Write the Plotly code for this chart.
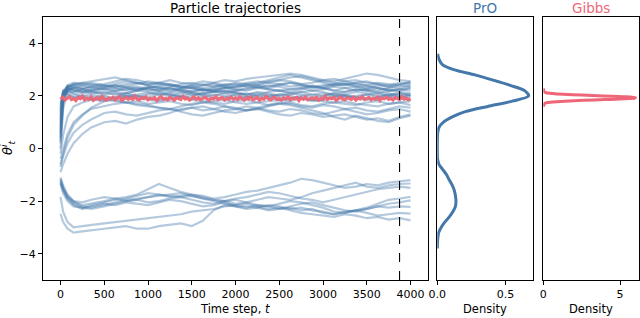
import plotly.graph_objects as go

# ---------------- data ----------------
time_steps = [0, 30, 80, 150, 250, 350, 500, 625, 750, 875, 1000, 1125, 1250, 1375, 1500,
              1625, 1750, 1875, 2000, 2125, 2250, 2375, 2500, 2625, 2750, 2875, 3000,
              3125, 3250, 3375, 3500, 3625, 3750, 3875, 4000]

upper_particles = [
    [0.6, 2.0, 2.35, 2.4, 2.3, 2.35, 2.25, 2.3, 2.2, 2.25, 2.3, 2.2, 2.15, 2.25, 2.3, 2.2, 2.3, 2.35, 2.25, 2.2, 2.3, 2.4, 2.35, 2.25, 2.3, 2.2, 2.25, 2.35, 2.3, 2.2, 2.25, 2.3, 2.2, 2.25, 2.3],
    [1.2, 2.1, 2.3, 2.2, 2.1, 2.15, 2.05, 2.1, 2.0, 2.05, 2.1, 2.15, 2.05, 2.0, 2.1, 2.05, 2.0, 2.1, 2.15, 2.05, 2.1, 2.0, 2.05, 2.1, 2.15, 2.05, 2.0, 2.1, 2.05, 2.15, 2.1, 2.0, 2.05, 2.1, 2.0],
    [0.3, 1.8, 2.3, 2.45, 2.4, 2.3, 2.35, 2.4, 2.3, 2.2, 2.3, 2.35, 2.25, 2.3, 2.4, 2.45, 2.35, 2.4, 2.5, 2.45, 2.4, 2.35, 2.45, 2.5, 2.4, 2.35, 2.3, 2.4, 2.45, 2.35, 2.3, 2.4, 2.35, 2.45, 2.5],
    [1.5, 2.2, 2.2, 2.1, 2.0, 1.95, 2.0, 1.9, 1.95, 2.0, 1.9, 1.85, 1.95, 2.0, 1.9, 1.95, 2.05, 2.0, 1.9, 1.95, 2.0, 2.05, 1.95, 1.9, 2.0, 2.05, 2.1, 2.0, 1.95, 2.0, 2.05, 1.95, 2.0, 2.1, 2.05],
    [0.8, 2.1, 2.4, 2.35, 2.25, 2.2, 2.3, 2.2, 2.25, 2.35, 2.25, 2.2, 2.3, 2.2, 2.15, 2.25, 2.2, 2.15, 2.2, 2.3, 2.35, 2.25, 2.2, 2.25, 2.3, 2.4, 2.3, 2.2, 2.15, 2.25, 2.2, 2.1, 2.2, 2.15, 2.1],
    [1.0, 2.0, 2.25, 2.3, 2.2, 2.1, 2.15, 2.05, 2.1, 2.0, 1.95, 2.05, 2.1, 2.15, 2.05, 2.0, 1.9, 1.95, 2.05, 2.1, 2.0, 1.95, 1.85, 1.9, 1.95, 1.85, 1.9, 2.0, 2.05, 1.95, 1.9, 1.85, 1.95, 1.9, 1.85],
    [0.4, 1.9, 2.35, 2.45, 2.5, 2.4, 2.45, 2.55, 2.65, 2.6, 2.5, 2.45, 2.4, 2.35, 2.4, 2.3, 2.35, 2.45, 2.4, 2.5, 2.55, 2.5, 2.6, 2.7, 2.75, 2.65, 2.55, 2.5, 2.45, 2.4, 2.35, 2.3, 2.25, 2.2, 2.3],
    [1.7, 2.15, 2.1, 1.95, 1.9, 1.85, 1.8, 1.85, 1.75, 1.8, 1.7, 1.75, 1.8, 1.7, 1.65, 1.75, 1.8, 1.85, 1.75, 1.7, 1.75, 1.8, 1.85, 1.8, 1.9, 1.85, 1.8, 1.75, 1.7, 1.65, 1.75, 1.8, 1.7, 1.75, 1.8],
    [0.2, 1.7, 2.2, 2.3, 2.25, 2.2, 2.1, 2.2, 2.3, 2.25, 2.35, 2.3, 2.2, 2.25, 2.15, 2.1, 2.2, 2.3, 2.35, 2.4, 2.3, 2.25, 2.2, 2.15, 2.25, 2.35, 2.4, 2.45, 2.55, 2.6, 2.5, 2.45, 2.35, 2.3, 2.4],
    [1.3, 2.15, 2.3, 2.25, 2.15, 2.2, 2.25, 2.15, 2.1, 2.2, 2.15, 2.05, 2.0, 2.1, 2.2, 2.25, 2.15, 2.1, 2.0, 1.95, 2.05, 2.15, 2.2, 2.1, 2.05, 1.95, 2.0, 2.1, 2.15, 2.25, 2.2, 2.15, 2.1, 2.0, 2.05],
    [0.7, 2.05, 2.4, 2.5, 2.45, 2.5, 2.4, 2.35, 2.45, 2.5, 2.4, 2.3, 2.35, 2.45, 2.5, 2.4, 2.45, 2.35, 2.3, 2.4, 2.45, 2.55, 2.6, 2.55, 2.45, 2.5, 2.6, 2.65, 2.55, 2.45, 2.4, 2.5, 2.45, 2.4, 2.55],
    [1.6, 2.1, 2.05, 1.95, 2.0, 2.05, 1.95, 1.9, 2.0, 1.95, 2.05, 2.1, 2.05, 1.95, 2.0, 2.1, 2.15, 2.2, 2.1, 2.05, 2.15, 2.1, 2.0, 2.05, 2.15, 2.2, 2.15, 2.05, 2.0, 1.95, 2.05, 2.1, 2.0, 1.95, 2.0],
    [0.5, 1.95, 2.3, 2.2, 2.15, 2.25, 2.3, 2.4, 2.35, 2.3, 2.2, 2.25, 2.3, 2.2, 2.1, 2.05, 2.15, 2.2, 2.1, 2.0, 1.9, 1.95, 2.05, 2.0, 1.9, 1.8, 1.85, 1.95, 2.0, 1.9, 1.85, 1.95, 2.05, 2.0, 1.9],
    [1.1, 2.05, 2.2, 2.15, 2.25, 2.35, 2.4, 2.3, 2.35, 2.45, 2.55, 2.5, 2.45, 2.35, 2.3, 2.2, 2.25, 2.3, 2.2, 2.25, 2.35, 2.3, 2.4, 2.5, 2.45, 2.35, 2.3, 2.2, 2.3, 2.35, 2.25, 2.2, 2.3, 2.4, 2.35],
    [0.9, 2.0, 2.2, 2.05, 1.95, 1.9, 1.85, 1.95, 2.0, 1.9, 1.85, 1.8, 1.9, 1.95, 1.85, 1.8, 1.75, 1.7, 1.8, 1.85, 1.75, 1.65, 1.7, 1.75, 1.65, 1.6, 1.7, 1.75, 1.8, 1.7, 1.65, 1.6, 1.7, 1.75, 1.65],
    [1.4, 2.2, 2.35, 2.3, 2.4, 2.45, 2.35, 2.45, 2.55, 2.5, 2.4, 2.5, 2.6, 2.5, 2.45, 2.55, 2.5, 2.4, 2.45, 2.35, 2.4, 2.5, 2.45, 2.35, 2.4, 2.3, 2.35, 2.45, 2.4, 2.5, 2.55, 2.45, 2.4, 2.5, 2.45],
    [-0.9, -0.6, -0.2, 0.2, 0.55, 0.8, 1.0, 1.05, 0.95, 1.1, 1.2, 1.25, 1.35, 1.5, 1.55, 1.45, 1.5, 1.6, 1.55, 1.45, 1.5, 1.6, 1.7, 1.65, 1.55, 1.45, 1.35, 1.2, 1.1, 1.25, 1.15, 1.05, 1.0, 1.15, 1.25],
    [-0.6, -0.3, 0.2, 0.6, 0.9, 1.1, 1.35, 1.4, 1.3, 1.25, 1.35, 1.45, 1.5, 1.4, 1.3, 1.25, 1.35, 1.45, 1.5, 1.6, 1.55, 1.45, 1.4, 1.5, 1.45, 1.35, 1.3, 1.4, 1.5, 1.55, 1.45, 1.4, 1.5, 1.6, 1.55],
    [-0.4, 0.0, 0.55, 1.0, 1.3, 1.5, 1.6, 1.7, 1.75, 1.7, 1.65, 1.55, 1.5, 1.6, 1.7, 1.75, 1.7, 1.6, 1.5, 1.45, 1.55, 1.65, 1.75, 1.7, 1.6, 1.55, 1.65, 1.6, 1.5, 1.4, 1.3, 1.35, 1.45, 1.5, 1.4],
    [-0.7, -0.2, 0.4, 0.9, 1.25, 1.55, 1.8, 1.95, 2.1, 2.2, 2.3, 2.4, 2.45, 2.35, 2.3, 2.4, 2.5, 2.6, 2.55, 2.65, 2.7, 2.75, 2.8, 2.85, 2.8, 2.7, 2.6, 2.55, 2.65, 2.75, 2.85, 2.8, 2.7, 2.6, 2.55],
    [0.0, 1.5, 2.2, 2.4, 2.5, 2.55, 2.65, 2.7, 2.6, 2.5, 2.45, 2.5, 2.4, 2.3, 2.35, 2.25, 2.2, 2.3, 2.35, 2.45, 2.5, 2.6, 2.7, 2.8, 2.7, 2.6, 2.5, 2.4, 2.45, 2.5, 2.4, 2.3, 2.2, 2.25, 2.2],
    [-0.2, 0.5, 1.2, 1.6, 1.75, 1.85, 1.9, 1.8, 1.75, 1.65, 1.6, 1.55, 1.5, 1.45, 1.55, 1.6, 1.5, 1.4, 1.35, 1.45, 1.5, 1.4, 1.3, 1.25, 1.35, 1.3, 1.2, 1.25, 1.3, 1.2, 1.1, 1.15, 1.05, 1.2, 1.3],
]

lower_particles = [
    [-2.48, -2.8, -3.05, -3.2, -3.15, -3.1, -3.05, -3.0, -2.95, -3.05, -3.05, -2.95, -2.9, -2.85, -2.95, -2.75, -2.35, -2.15, -2.2, -2.25, -2.15, -2.2, -2.3, -2.25, -2.35, -2.3, -2.45, -2.5, -2.4, -2.35, -2.45, -2.55, -2.5, -2.45, -2.48],
    [-1.84, -2.4, -2.8, -3.0, -2.95, -2.9, -2.85, -2.8, -2.75, -2.7, -2.65, -2.6, -2.55, -2.5, -2.4, -2.35, -2.3, -2.2, -2.15, -2.1, -2.2, -2.3, -2.25, -2.35, -2.45, -2.5, -2.55, -2.6, -2.5, -2.55, -2.65, -2.6, -2.7, -2.65, -2.73],
    [-1.2, -1.5, -1.8, -2.05, -2.15, -2.1, -2.0, -1.9, -1.85, -1.75, -1.55, -1.35, -1.5, -1.65, -1.75, -1.8, -1.9, -1.85, -1.75, -1.65, -1.6, -1.5, -1.4, -1.3, -1.15, -1.2, -1.3, -1.4, -1.5, -1.45, -1.35, -1.4, -1.3, -1.25, -1.2],
    [-1.1, -1.4, -1.75, -2.0, -2.2, -2.25, -2.15, -2.05, -1.95, -1.9, -1.85, -1.8, -1.75, -1.7, -1.8, -1.9, -1.95, -2.0, -2.1, -2.05, -1.95, -1.85, -1.9, -1.95, -1.85, -1.7, -1.6, -1.5, -1.4, -1.3, -1.45, -1.5, -1.4, -1.35, -1.33],
    [-1.3, -1.6, -1.9, -2.1, -2.25, -2.3, -2.2, -2.1, -2.0, -1.95, -2.05, -2.0, -1.9, -1.85, -1.8, -1.9, -2.0, -2.1, -2.15, -2.2, -2.25, -2.15, -2.2, -2.3, -2.25, -2.35, -2.4, -2.5, -2.45, -2.35, -2.25, -2.1, -1.95, -1.9, -1.84],
    [-1.15, -1.5, -1.85, -2.0, -2.05, -1.95, -1.85, -1.9, -2.0, -1.95, -1.85, -1.75, -1.8, -1.85, -1.95, -2.05, -2.1, -2.0, -1.95, -2.05, -2.15, -2.2, -2.1, -2.0, -2.05, -2.15, -2.25, -2.4, -2.45, -2.35, -2.3, -2.2, -2.1, -2.05, -1.97],
    [-1.25, -1.55, -1.9, -2.15, -2.3, -2.2, -2.1, -2.15, -2.05, -2.1, -2.15, -2.05, -1.95, -2.0, -2.1, -2.2, -2.15, -2.05, -2.2, -2.3, -2.25, -2.35, -2.3, -2.2, -2.1, -2.05, -2.15, -2.25, -2.35, -2.4, -2.3, -2.2, -2.25, -2.2, -2.22],
    [-1.35, -1.7, -2.0, -2.2, -2.25, -2.15, -2.05, -1.95, -1.9, -1.8, -1.7, -1.75, -1.85, -1.8, -1.75, -1.85, -1.95, -2.0, -1.9, -1.85, -1.75, -1.65, -1.7, -1.8, -1.9, -1.95, -2.05, -1.95, -1.85, -1.75, -1.65, -1.55, -1.5, -1.45, -1.5],
]

gibbs_step = 25
gibbs_chain = [
    1.88, 1.95, 1.84, 1.92, 1.97, 1.86, 1.90, 1.82, 1.94, 1.89,
    1.99, 1.85, 1.91, 1.87, 1.96, 1.83, 1.90, 1.93, 1.86, 1.98,
    1.88, 1.84, 1.92, 1.89, 1.95, 1.85, 1.91, 1.97, 1.83, 1.90,
    1.94, 1.87, 1.92, 1.86, 1.99, 1.88, 1.84, 1.93, 1.90, 1.96,
    1.85, 1.91, 1.88, 1.94, 1.82, 1.92, 1.97, 1.87, 1.90, 1.85,
    1.95, 1.89, 1.83, 1.93, 1.91, 1.86, 1.98, 1.88, 1.92, 1.84,
    1.90, 1.96, 1.87, 1.93, 1.85, 1.91, 1.95, 1.88, 1.83, 1.92,
    1.89, 1.97, 1.86, 1.90, 1.94, 1.84, 1.91, 1.88, 1.95, 1.87,
    1.92, 1.86, 1.97, 1.89, 1.84, 1.93, 1.88, 1.96, 1.85, 1.90,
    1.94, 1.83, 1.91, 1.87, 1.98, 1.89, 1.85, 1.92, 1.95, 1.86,
    1.90, 1.84, 1.93, 1.88, 1.97, 1.86, 1.91, 1.89, 1.94, 1.82,
    1.92, 1.87, 1.96, 1.85, 1.90, 1.93, 1.88, 1.95, 1.84, 1.91,
    1.87, 1.99, 1.86, 1.92, 1.89, 1.94, 1.83, 1.90, 1.96, 1.88,
    1.85, 1.93, 1.91, 1.87, 1.95, 1.84, 1.92, 1.89, 1.97, 1.86,
    1.90, 1.94, 1.85, 1.91, 1.88, 1.96, 1.83, 1.92, 1.89, 1.95,
    1.87, 1.91, 1.84, 1.93, 1.90, 1.86, 1.97, 1.88, 1.92, 1.85,
    1.90,
]

cutoff_step = 3875

pro_theta = [-3.8, -3.6, -3.4, -3.2, -3.0, -2.8, -2.6, -2.4, -2.2, -2.0, -1.8, -1.6, -1.4,
             -1.2, -1.0, -0.8, -0.6, -0.4, -0.2, 0.0, 0.2, 0.4, 0.6, 0.8, 1.0, 1.2, 1.4,
             1.6, 1.8, 2.0, 2.2, 2.4, 2.6, 2.8, 3.0, 3.2, 3.4, 3.6]
pro_density = [0.0, 0.001, 0.004, 0.01, 0.028, 0.055, 0.088, 0.115, 0.133, 0.137, 0.133,
               0.125, 0.11, 0.088, 0.068, 0.04, 0.012, 0.002, 0.0, 0.0, 0.0, 0.001, 0.003,
               0.012, 0.045, 0.11, 0.205, 0.37, 0.55, 0.67, 0.64, 0.535, 0.41, 0.275,
               0.12, 0.035, 0.012, 0.002]

gibbs_theta = [1.60, 1.65, 1.70, 1.74, 1.77, 1.80, 1.83, 1.86, 1.89, 1.92, 1.94, 1.97,
               2.00, 2.03, 2.06, 2.09, 2.12, 2.16, 2.22, 2.28]
gibbs_density = [0.0, 0.03, 0.07, 0.2, 0.6, 1.4, 2.6, 4.0, 5.3, 5.95, 6.0, 5.2,
                 3.9, 2.5, 1.3, 0.6, 0.2, 0.06, 0.02, 0.0]

# ---------------- style ----------------
BLUE = "#4477AA"
RED = "#EE6677"
FONT = "DejaVu Sans"

W, H = 640, 318
def px_x(p):
    return p / W
def px_y(p):
    return 1 - p / H

top, bottom = px_y(17), px_y(280)
main_dom = [px_x(43), px_x(428)]
pro_dom = [px_x(437.3), px_x(533.3)]
gib_dom = [px_x(543.3), px_x(639.3)]

fig = go.Figure()

for traj in upper_particles + lower_particles:
    fig.add_trace(go.Scatter(x=time_steps, y=traj, mode="lines",
                             line=dict(color="rgba(68,119,170,0.40)", width=2.2),
                             xaxis="x", yaxis="y", hoverinfo="skip"))

gibbs_t = [gibbs_step * i for i in range(len(gibbs_chain))]
fig.add_trace(go.Scatter(x=gibbs_t, y=gibbs_chain, mode="lines",
                         line=dict(color=RED, width=3.2), opacity=0.95,
                         xaxis="x", yaxis="y"))

fig.add_trace(go.Scatter(x=[cutoff_step, cutoff_step], y=[-5, 5], mode="lines",
                         line=dict(color="black", width=1.1, dash="dash"),
                         xaxis="x", yaxis="y"))

fig.add_trace(go.Scatter(x=pro_density, y=pro_theta, mode="lines",
                         line=dict(color=BLUE, width=3, shape="spline", smoothing=0.8),
                         xaxis="x2", yaxis="y2"))
fig.add_trace(go.Scatter(x=gibbs_density, y=gibbs_theta, mode="lines",
                         line=dict(color=RED, width=3, shape="spline", smoothing=0.6),
                         xaxis="x3", yaxis="y3"))

axis_common = dict(showline=True, mirror=True, linecolor="black", linewidth=1,
                   showgrid=False, zeroline=False, ticks="outside", ticklen=4,
                   automargin=False,
                   tickcolor="black", tickfont=dict(family=FONT, size=11, color="black"))
side_y = dict(showline=True, mirror=True, linecolor="black", linewidth=1, automargin=False,
              showgrid=False, zeroline=False, showticklabels=False, ticks="")

fig.update_layout(
    template="none",
    width=W, height=H,
    margin=dict(l=0, r=0, t=0, b=0, autoexpand=False),
    paper_bgcolor="white", plot_bgcolor="white",
    showlegend=False,
    xaxis=dict(domain=main_dom, range=[-200, 4200], anchor="y",
               tickvals=[0, 500, 1000, 1500, 2000, 2500, 3000, 3500, 4000], **axis_common),
    yaxis=dict(domain=[bottom, top], range=[-5, 5], anchor="x",
               tickvals=[-4, -2, 0, 2, 4], ticktext=["\u22124", "\u22122", "0", "2", "4"],
               **axis_common),
    xaxis2=dict(domain=pro_dom, range=[0, 0.704], anchor="y2",
                tickvals=[0, 0.5], ticktext=["0.0", "0.5"], **axis_common),
    yaxis2=dict(domain=[bottom, top], range=[-5, 5], anchor="x2", **side_y),
    xaxis3=dict(domain=gib_dom, range=[0, 6.25], anchor="y3",
                tickvals=[0, 5], ticktext=["0", "5"], **axis_common),
    yaxis3=dict(domain=[bottom, top], range=[-5, 5], anchor="x3", **side_y),
)

def label(text, x, y, size=11, color="black", angle=0, yanchor="middle", yshift=0):
    fig.add_annotation(text=text, x=x, y=y, xref="paper", yref="paper",
                       showarrow=False, textangle=angle, xanchor="center",
                       yanchor=yanchor, yshift=yshift,
                       font=dict(family=FONT, size=size, color=color))

label("Particle trajectories", sum(main_dom) / 2, top, size=13.5, yanchor="bottom", yshift=-1)
label("PrO", sum(pro_dom) / 2, top, size=13.5, color=BLUE, yanchor="bottom", yshift=-1)
label("Gibbs", sum(gib_dom) / 2, top, size=13.5, color=RED, yanchor="bottom", yshift=-1)
label("Time step, <i>t</i>", sum(main_dom) / 2, px_y(309), size=11.5)
label("Density", sum(pro_dom) / 2, px_y(309), size=11.5)
label("Density", sum(gib_dom) / 2, px_y(309), size=11.5)
label("<i>θ</i><sup><i>i</i></sup><sub><i>t</i></sub>", px_x(8), px_y(148), size=13, angle=-90)

fig.write_html(
    "out.html",
    config={"displayModeBar": False},
    post_script="document.body.style.margin='0';document.body.style.padding='0';"
                "document.body.style.overflow='hidden';",
)
